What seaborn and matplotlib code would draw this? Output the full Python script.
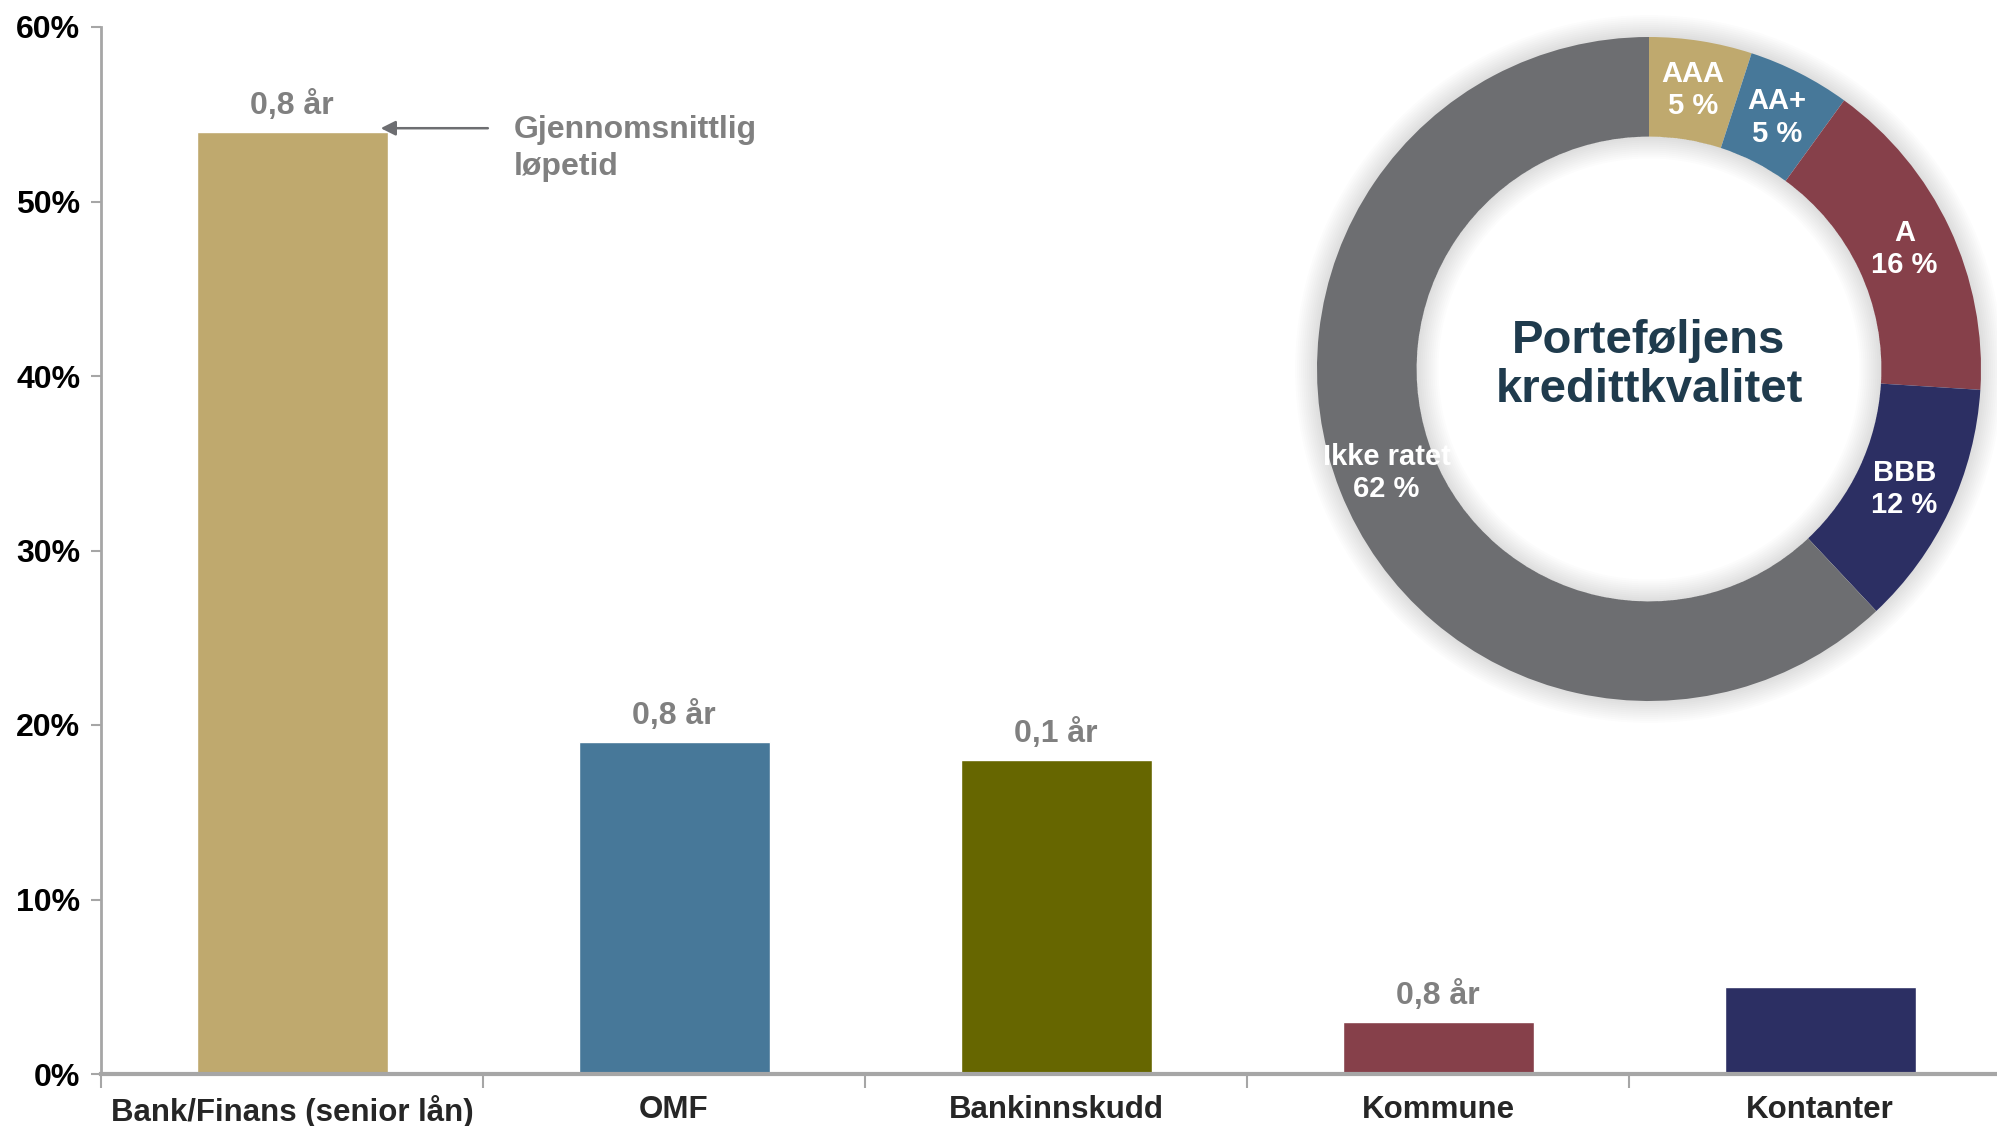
import numpy as np
import pandas as pd
import matplotlib
matplotlib.use("Agg")
import matplotlib.pyplot as plt
import seaborn as sns
from matplotlib.patches import Annulus
from matplotlib.ticker import PercentFormatter

# ---- data ----
categories = ["Bank/Finans (senior lån)", "OMF", "Bankinnskudd", "Kommune", "Kontanter"]
shares = [0.54, 0.19, 0.18, 0.03, 0.05]
durations = ["0,8 år", "0,8 år", "0,1 år", "0,8 år", ""]
bar_colors = ["#BFA96E", "#477899", "#666600", "#86404A", "#2C2F63"]

rating_labels = ["AAA", "AA+", "A", "BBB", "Ikke ratet"]
rating_shares = [5, 5, 16, 12, 62]
rating_colors = ["#BFA96E", "#477899", "#86404A", "#2C2F63", "#6D6E71"]

donut_title = "Porteføljens\nkredittkvalitet"
annotation_text = "Gjennomsnittlig\nløpetid"

sns.set_style("white")
plt.rcParams['font.family'] = ['Liberation Sans', 'DejaVu Sans']
plt.rcParams['font.weight'] = 'bold'

W, H = 1997, 1126
fig = plt.figure(figsize=(W / 100, H / 100), dpi=100)
ax = fig.add_axes([101 / W, 1 - 1074 / H, (2011 - 101) / W, (1074 - 27) / H])

df = pd.DataFrame({"cat": categories, "share": shares})
sns.barplot(data=df, x="cat", y="share", hue="cat", palette=bar_colors,
            width=0.5, saturation=1, legend=False, ax=ax, dodge=False)

ax.set_xlim(-0.5, len(categories) - 0.5)
ax.set_ylim(0, 0.6)
ax.set_yticks(np.arange(0, 0.61, 0.1))
ax.yaxis.set_major_formatter(PercentFormatter(1.0, decimals=0))
ax.set_xlabel("")
ax.set_ylabel("")

gray = "#A6A6A6"
for s in ["top", "right"]:
    ax.spines[s].set_visible(False)
ax.spines["left"].set_color(gray)
ax.spines["left"].set_linewidth(2)
ax.spines["bottom"].set_color(gray)
ax.spines["bottom"].set_linewidth(3)

ax.tick_params(axis="y", which="major", length=7, width=1.5, color=gray,
               labelsize=23, labelcolor="black", pad=8, left=True, direction="out")
ax.set_xticks(range(len(categories)))
ax.set_xticklabels(categories, fontsize=22.5, fontweight="bold")
ax.tick_params(axis="x", which="major", length=0, pad=15)
ax.set_xticks(np.arange(-0.5, len(categories) - 0.4, 1.0), minor=True)
ax.tick_params(axis="x", which="minor", length=10, width=1.5, color=gray, bottom=True, direction="out")
for lbl in ax.get_yticklabels():
    lbl.set_fontweight("bold")

# bar labels
for cont in ax.containers:
    for bar in cont:
        idx = int(round(bar.get_x() + bar.get_width() / 2))
        if durations[idx]:
            ax.annotate(durations[idx], (bar.get_x() + bar.get_width() / 2, bar.get_height()),
                        xytext=(0, 8), textcoords="offset points", ha="center", va="bottom",
                        fontsize=23, fontweight="bold", color="#808080")

# annotation arrow
ax.annotate("", xy=(0.225, 0.542), xytext=(0.52, 0.542),
            arrowprops=dict(arrowstyle="-|>", color="#6D6E71", lw=1.8, mutation_scale=22))
ax.text(0.58, 0.5305, annotation_text, ha="left", va="center", fontsize=23, fontweight="bold",
        color="#808080", linespacing=1.3)

# ---- donut ----
cx, cy, R = 1649, 369, 332
pad = 1.08
pax = fig.add_axes([(cx - pad * R) / W, 1 - (cy + pad * R) / H, 2 * pad * R / W, 2 * pad * R / H])

wedges, _ = pax.pie(rating_shares, colors=rating_colors, startangle=90, counterclock=False,
                    radius=1.0, wedgeprops=dict(width=0.3, linewidth=0, zorder=2))
pax.set_xlim(-pad, pad)
pax.set_ylim(-pad, pad)
pax.set_aspect("equal")
pax.axis("off")

# soft outer shadow
for i in range(1, 12):
    pax.add_patch(Annulus((0, 0), 1.0 + 0.006 * i, 0.006 * i + 0.01, color="black",
                          alpha=0.010, lw=0, zorder=0))
# soft inner shadow
for i in range(1, 12):
    pax.add_patch(Annulus((0, 0), 0.7, 0.006 * i, color="black", alpha=0.012, lw=0, zorder=3))

for w, lab, val in zip(wedges, rating_labels, rating_shares):
    ang = np.deg2rad((w.theta1 + w.theta2) / 2)
    r = 0.85
    pax.text(r * np.cos(ang), r * np.sin(ang), f"{lab}\n{val} %", ha="center", va="center",
             color="white", fontsize=21, fontweight="bold", linespacing=1.2, zorder=5)

pax.text(0, 0.01, donut_title, ha="center", va="center", fontsize=34, fontweight="bold",
         color="#1F3B4D", linespacing=1.15, zorder=6)

fig.savefig("out.png", dpi=100)
